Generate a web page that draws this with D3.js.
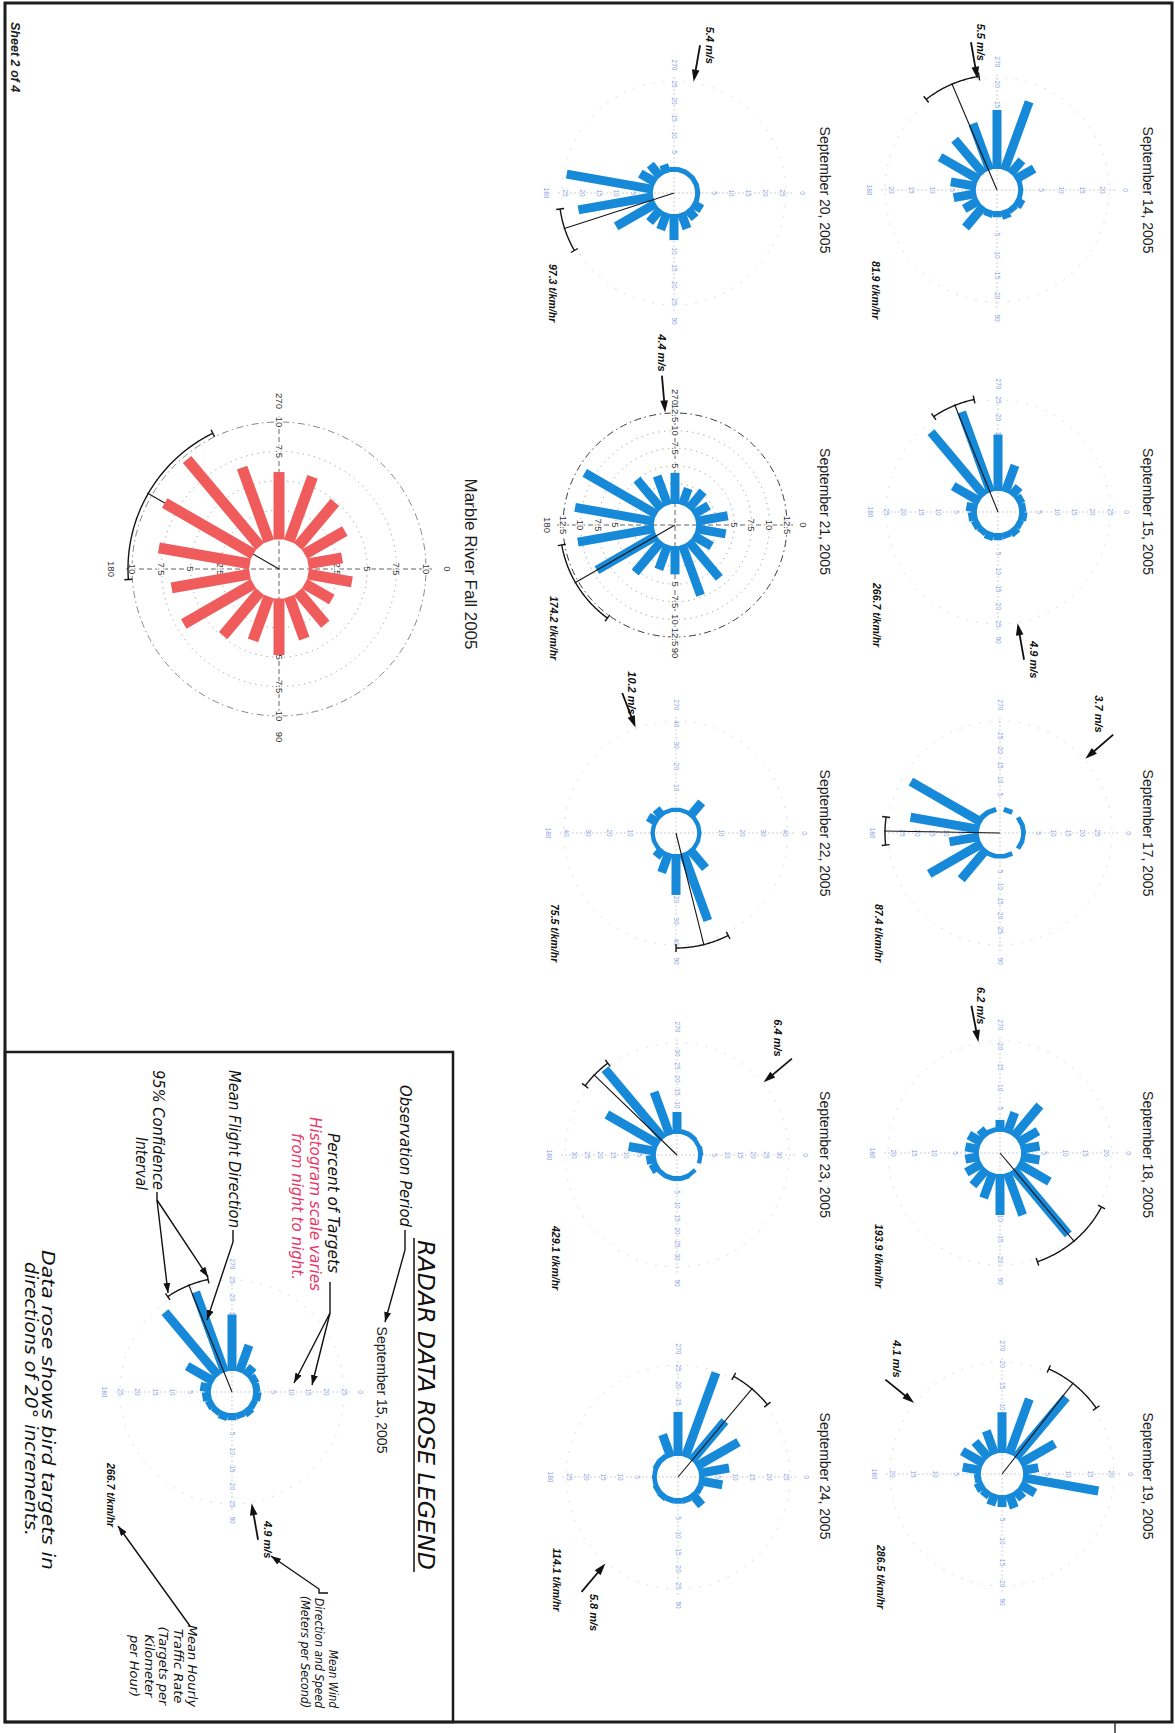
<!DOCTYPE html>
<html>
<head>
<meta charset="utf-8">
<script src="https://cdn.jsdelivr.net/npm/d3@7/dist/d3.min.js"></script>
<style>
html,body{margin:0;padding:0;background:#fff;}
svg{display:block;}
</style>
</head>
<body>
<svg id="page" width="1175" height="1733"></svg>
<script>
// ================= DATA =================
// 20-degree direction bins (bin centres, degrees from north)
const binCenters = d3.range(10, 360, 20);

const nightDates = ["September 14, 2005","September 15, 2005","September 17, 2005","September 18, 2005","September 19, 2005",
                    "September 20, 2005","September 21, 2005","September 22, 2005","September 23, 2005","September 24, 2005"];

// percent of targets per bin (10,30,...,350)
const pctSep14 = [0.5,1.5,0.8,1.5,0.8,1.0,6.1,3.4,4.9,5.6,10.2,10.2,11.4,13.7,17.1,3.6,4.6,0.5];
const pctSep15 = [1.5,1.0,1.5,1.0,1.2,1.5,1.0,1.3,1.7,2.3,7.9,22.8,23.4,15.2,7.3,2.5,1.4,1.2];
const pctSep17 = [0.5,0.6,0,0.6,0.5,0.6,12.4,19.7,9.3,22.8,26.9,0.8,0.7,0,0.7,0,0.6,0.6];
const pctSep18 = [3.9,8.0,19.9,10.2,9.2,5.8,4.4,3.6,2.7,2.7,2.9,1.7,0.5,2.2,4.6,9.2,4.8,3.9];
const pctSep19 = [17.2,3.3,1.9,2.8,2.1,2.1,1.2,1.4,0.9,3.7,5.1,4.2,5.1,8.8,13.0,17.7,8.6,3.0];
const pctSep20 = [0.6,2.4,2.6,4.1,6.8,4.4,4.1,12.6,21.5,25.0,4.4,3.8,1.8,0.6,0.6,0.6,0.6,0.6];
const pctSep21 = [3.9,2.6,6.4,7.2,3.6,3.3,5.4,9.4,10.6,11.0,11.4,5.0,4.0,4.0,2.1,2.8,2.1,4.2];
const pctSep22 = [0.6,0.6,10.3,32.4,17.8,8.5,3.3,0.6,0.6,0.6,3.8,3.3,0.6,0.6,0.6,7.5,0.6,0.6];
const pctSep23 = [0.5,0,0.5,0.8,0.8,0.8,0.8,2.3,2.7,9.6,21.9,33.8,16.5,7.3,0.8,0.8,0.5,0.8];
const pctSep24 = [6.2,1.0,3.8,0.9,0.8,0.8,1.0,0.8,0.5,0.5,0.8,0.8,6.2,12.1,25.6,14.4,13.5,8.2];
const nightPercents = [pctSep14,pctSep15,pctSep17,pctSep18,pctSep19,pctSep20,pctSep21,pctSep22,pctSep23,pctSep24];

// histogram scale (value reached at outer ring) and axis tick labels – varies night to night
const histogramMax = [21.5, 25, 30, 21.3, 20.5, 25.9, 12.5, 41.3, 33.8, 25.9];
const histogramTicks = [[5,10,15,20],[5,10,15,20,25],[5,10,15,20,25],[5,10,15,20],[5,10,15,20],
                        [5,10,15,20,25],[5,7.5,10,12.5],[10,20,30,40],[5,10,15,20,25,30],[5,10,15,20,25]];

// mean flight direction and 95% confidence interval (degrees)
const meanFlight = [247, 248, 181, 50, 308, 162, 150, 76, 224, 310];
const ciLow      = [232, 236, 174, 28, 294, 150, 126, 63, 217, 299];
const ciHigh     = [261, 258, 188, 71, 325, 172, 170, 90, 233, 321];

// mean wind (direction the arrow comes from) and speed
const windFrom  = [260, 80, 319, 259, 219, 280, 265, 249, 320, 130];
const windSpeed = ["5.5 m/s","4.9 m/s","3.7 m/s","6.2 m/s","4.1 m/s","5.4 m/s","4.4 m/s","10.2 m/s","6.4 m/s","5.8 m/s"];

// mean hourly traffic rate
const trafficRate = ["81.9 t/km/hr","266.7 t/km/hr","87.4 t/km/hr","193.9 t/km/hr","286.5 t/km/hr",
                     "97.3 t/km/hr","174.2 t/km/hr","75.5 t/km/hr","429.1 t/km/hr","114.1 t/km/hr"];

// season summary rose
const seasonTitle = "Marble River Fall 2005";
const pctSeason = [3.79,2.68,3.62,3.79,4.81,3.96,4.89,6.85,6.77,7.87,8.72,9.66,6.68,5.74,5.83,4.89,3.96,2.94];
const seasonMax = 10;
const seasonTicks = [2.5,5,7.5,10];
const seasonMean = 210;
const seasonCi = [176, 244];

const degreeLabels = ["0","90","180","270"];
const legendSampleIndex = 1; // September 15 used in the legend

// ================= DRAWING =================
const W = 1175, H = 1733;
const svg = d3.select("#page");
svg.append("rect").attr("width", W).attr("height", H).attr("fill", "#fff");
const defs = svg.append("defs");
defs.append("marker").attr("id","ah").attr("viewBox","0 0 10 7").attr("refX",10).attr("refY",3.5)
  .attr("markerWidth",10).attr("markerHeight",7).attr("markerUnits","userSpaceOnUse").attr("orient","auto")
  .append("path").attr("d","M0,0 L10,3.5 L0,7 Z").attr("fill","#111");

// landscape sheet rotated a quarter turn clockwise
const page = svg.append("g").attr("transform", `translate(${W},0) rotate(90)`);

const BLUE = "#1689d8", RED = "#f05c5c", PINK = "#e8386a";
const rad = d => d * Math.PI / 180;
const P = (deg, r) => [r * Math.sin(rad(deg)), -r * Math.cos(rad(deg))];

// page borders
page.append("rect").attr("x",3).attr("y",3).attr("width",1719).attr("height",1167)
  .attr("fill","none").attr("stroke","#1c1c1c").attr("stroke-width",3);
page.append("rect").attr("x",1052).attr("y",722).attr("width",670).attr("height",448)
  .attr("fill","none").attr("stroke","#1c1c1c").attr("stroke-width",2.5);
page.append("line").attr("x1",1722).attr("x2",1733).attr("y1",60).attr("y2",60).attr("stroke","#333").attr("stroke-width",1.5);
page.append("text").attr("x",22).attr("y",1164).text("Sheet 2 of 4")
  .attr("font-family","Liberation Sans, Arial, sans-serif").attr("font-size",12.5).attr("font-weight","bold")
  .attr("font-style","italic").attr("fill","#222");

function drawRose(cx, cy, rose, o) {
  const g = page.append("g").attr("transform", `translate(${cx},${cy})`);
  const r = d3.scaleLinear().domain([0, rose.max]).range([o.r0, o.R]);
  const axisCol = o.dark ? "#555" : "#bcbcbc";
  // rings
  if (o.dark) {
    g.selectAll("circle.ring").data(rose.rings).join("circle")
      .attr("r", d => r(d)).attr("fill","none").attr("stroke","#9a9a9a").attr("stroke-width",1)
      .attr("stroke-dasharray","1.2,4.5");
    g.append("circle").attr("r", o.R).attr("fill","none").attr("stroke", o.ringCol)
      .attr("stroke-width",1).attr("stroke-dasharray","7,3.5,1.5,3.5");
  } else {
    g.append("circle").attr("r", o.R).attr("fill","none").attr("stroke","#d8d8d8")
      .attr("stroke-width",0.9).attr("stroke-dasharray","2,8");
  }
  // axes
  [0, 90].forEach(a => {
    const [x1, y1] = P(a, o.R + 6), [x2, y2] = P(a + 180, o.R + 6);
    g.append("line").attr("x1",x1).attr("y1",y1).attr("x2",x2).attr("y2",y2)
      .attr("stroke", axisCol).attr("stroke-width", o.dark ? 0.9 : 0.7)
      .attr("stroke-dasharray", o.dark ? "5,3" : "2,2");
  });
  // tick labels along the four axes
  const tickData = [];
  [0, 90, 180, 270].forEach(a => rose.ticks.forEach(t => tickData.push({a, t})));
  g.selectAll("text.tick").data(tickData).join("text")
    .attr("x", d => P(d.a, r(d.t))[0]).attr("y", d => P(d.a, r(d.t))[1])
    .attr("text-anchor","middle").attr("dominant-baseline","central")
    .attr("font-family","Liberation Sans, Arial, sans-serif")
    .attr("font-size", o.dark ? 9.5 : 6.5)
    .attr("fill", o.dark ? "#333" : "#7f9bdc")
    .attr("stroke","#fff").attr("stroke-width", o.dark ? 2.5 : 1.5).attr("paint-order","stroke")
    .text(d => d.t);
  g.selectAll("text.deg").data(degreeLabels).join("text")
    .attr("x", (d, i) => P(i * 90, o.R + o.degOffset)[0]).attr("y", (d, i) => P(i * 90, o.R + o.degOffset)[1])
    .attr("text-anchor","middle").attr("dominant-baseline","central")
    .attr("font-family","Liberation Sans, Arial, sans-serif")
    .attr("font-size", o.dark ? 9.5 : 6.5).attr("fill", o.dark ? "#333" : "#7f9bdc")
    .text(d => d);
  const meanLine = () => {
    const [mx, my] = P(rose.mean, o.Rci + 1);
    g.append("line").attr("x1",0).attr("y1",0).attr("x2",mx).attr("y2",my)
      .attr("stroke","#151515").attr("stroke-width",1.1);
  };
  if (!o.lineOver) meanLine();
  // bars
  const bars = binCenters.map((b, i) => ({b, v: rose.values[i]})).filter(d => d.v > 0);
  g.selectAll("rect.bar").data(bars).join("rect")
    .attr("x", -o.bw / 2).attr("width", o.bw)
    .attr("y", d => -r(d.v)).attr("height", d => r(d.v) - o.r0 + o.base)
    .attr("transform", d => `rotate(${d.b})`)
    .attr("fill", o.color);
  if (o.lineOver) meanLine();
  // confidence interval arc
  const arc = d3.lineRadial().angle(d => rad(d)).radius(o.Rci);
  g.append("path").attr("d", arc(d3.range(rose.ci[0], rose.ci[1] + 0.001, 0.5)))
    .attr("fill","none").attr("stroke","#151515").attr("stroke-width",1.4);
  rose.ci.forEach(a => {
    const [x1, y1] = P(a, o.Rci - 4), [x2, y2] = P(a, o.Rci + 4);
    g.append("line").attr("x1",x1).attr("y1",y1).attr("x2",x2).attr("y2",y2)
      .attr("stroke","#151515").attr("stroke-width",1.4);
  });
  // wind arrow
  if (rose.wind != null) {
    const wg = g.append("g").attr("transform", `rotate(${rose.wind})`);
    wg.append("line").attr("x1",0).attr("x2",0).attr("y1",-(o.R + 38)).attr("y2",-(o.R + 10))
      .attr("stroke","#111").attr("stroke-width",1.8);
    wg.append("path").attr("d", `M0,${-(o.R + 1)} L-3.8,${-(o.R + 13)} L3.8,${-(o.R + 13)} Z`).attr("fill","#111");
    const [tx, ty] = P(rose.wind, o.R + 38);
    const nearAxis = Math.min(...[0, 90, 180, 270, 360].map(a => Math.abs(rose.wind - a))) < 7;
    let lx, ly, anchor;
    if (nearAxis) { anchor = tx < 0 ? "end" : "start"; lx = tx + (tx < 0 ? -4 : 4); ly = ty + 4; }
    else if (Math.abs(Math.sin(rad(rose.wind))) >= 0.85) { lx = tx; ly = ty - 6; anchor = "middle"; }
    else { anchor = tx < 0 ? "end" : "start"; lx = tx + (tx < 0 ? -2 : 2); ly = ty < 0 ? ty + 18 : ty - 8; }
    g.append("text").attr("x", lx).attr("y", ly).attr("text-anchor", anchor)
      .attr("font-family","Liberation Sans, Arial, sans-serif").attr("font-size",11)
      .attr("font-weight","bold").attr("font-style","italic").attr("fill","#111").text(rose.speed);
  }
  if (rose.rate) {
    g.append("text").attr("x", 71).attr("y", 125)
      .attr("font-family","Liberation Sans, Arial, sans-serif").attr("font-size",10.5)
      .attr("font-weight","bold").attr("font-style","italic").attr("fill","#111").text(rose.rate);
  }
  return g;
}

const smallOpts = {r0: 24, R: 112, bw: 9, base: 3, Rci: 115, degOffset: 16, color: BLUE, dark: false, lineOver: true, ringCol: "#3a3a3a"};

// nightly roses
const roseCenters = [[190,178],[512,177],[833,175],[1153,175],[1474,173],[193,501],[525,500],[833,499],[1155,498],[1477,497]];
const roses = nightDates.map((date, i) => ({
  date, values: nightPercents[i], max: histogramMax[i], ticks: histogramTicks[i],
  rings: histogramTicks[i].slice(0, -1).concat([2.5]),
  mean: meanFlight[i], ci: [ciLow[i], ciHigh[i]], wind: windFrom[i], speed: windSpeed[i], rate: trafficRate[i]
}));
roses.forEach((rose, i) => {
  const [cx, cy] = roseCenters[i];
  const col = i % 5, row = Math.floor(i / 5);
  drawRose(cx, cy, rose, Object.assign({}, smallOpts, {dark: i === 6}));
  page.append("text").attr("x", 190 + 321.5 * col).attr("y", row === 0 ? 32 : 355)
    .attr("text-anchor","middle").attr("font-family","Liberation Sans, Arial, sans-serif")
    .attr("font-size",14).attr("fill","#1e1e1e").text(rose.date);
});

// season summary rose
drawRose(569, 896, {values: pctSeason, max: seasonMax, ticks: seasonTicks, rings: [2.5,5,7.5],
  mean: seasonMean, ci: seasonCi, wind: null, rate: null},
  {r0: 29.5, R: 147, bw: 11, base: 0, Rci: 151, degOffset: 21, color: RED, dark: true, lineOver: false, ringCol: "#888"});
page.append("text").attr("x", 564).attr("y", 710).attr("text-anchor","middle")
  .attr("font-family","Liberation Sans, Arial, sans-serif").attr("font-size",17).attr("fill","#1e1e1e")
  .text(seasonTitle);

// ================= LEGEND =================
const legendRose = roses[legendSampleIndex];
drawRose(1392, 943, legendRose, smallOpts);
page.append("text").attr("x", 1390).attr("y", 798).attr("text-anchor","middle")
  .attr("font-family","Liberation Sans, Arial, sans-serif").attr("font-size",14).attr("fill","#1e1e1e")
  .text(legendRose.date);

const LF = "DejaVu Sans, Verdana, sans-serif";
function ltext(str, x, y, size, len, fill, anchor) {
  const t = page.append("text").attr("x", x).attr("y", y).attr("font-family", LF)
    .attr("font-size", size).attr("font-style","italic").attr("fill", fill || "#111").text(str);
  if (len) t.attr("textLength", len).attr("lengthAdjust","spacingAndGlyphs");
  if (anchor) t.attr("text-anchor", anchor);
  return t;
}
ltext("RADAR DATA ROSE LEGEND", 1240, 757, 23, 330);
page.append("line").attr("x1",1238).attr("x2",1572).attr("y1",761).attr("y2",761).attr("stroke","#111").attr("stroke-width",1.5);
ltext("Observation Period", 1085, 775, 15.5, 142);
ltext("Percent of Targets", 1133, 847, 15.5, 140);
ltext("Histogram scale varies", 1117, 865, 15.5, 174, PINK);
ltext("from night to night.", 1133, 883, 15.5, 147, PINK);
ltext("Mean Flight Direction", 1070, 946, 15.5, 158);
ltext("95% Confidence", 1070, 1022, 15.5, 120);
ltext("Interval", 1137, 1039, 15.5, 53);
ltext("Data rose shows bird targets in", 1250, 1133, 18.5, 320);
ltext("directions of 20\u00B0 increments.", 1262, 1150, 18.5, 274);
ltext("Mean Wind", 1650, 846, 13, 58);
ltext("Direction and Speed", 1598, 860, 13, 110);
ltext("(Meters per Second)", 1596, 874, 13, 112);
["Mean Hourly","Traffic Rate","(Targets per","Kilometer","per Hour)"].forEach((s, i) =>
  ltext(s, 1666, 987 + i * 14.5, 13, null, null, "middle"));

const pointer = (pts, head = true) => {
  const p = page.append("path").attr("d", d3.line()(pts)).attr("fill","none")
    .attr("stroke","#111").attr("stroke-width",1.4);
  if (head) p.attr("marker-end","url(#ah)");
};
pointer([[1230,770],[1250,770],[1322,790]]);
pointer([[1282,845],[1313,845]], false);
pointer([[1313,845],[1385,863]]);
pointer([[1313,845],[1383,881]]);
pointer([[1230,942],[1242,942],[1320,968]]);
pointer([[1192,1018],[1200,1018],[1293,1007]]);
pointer([[1200,1018],[1277,967]]);
pointer([[1593,847],[1593,856],[1589,856],[1556,904]]);
pointer([[1626,985],[1526,1057]]);
</script>
</body>
</html>
